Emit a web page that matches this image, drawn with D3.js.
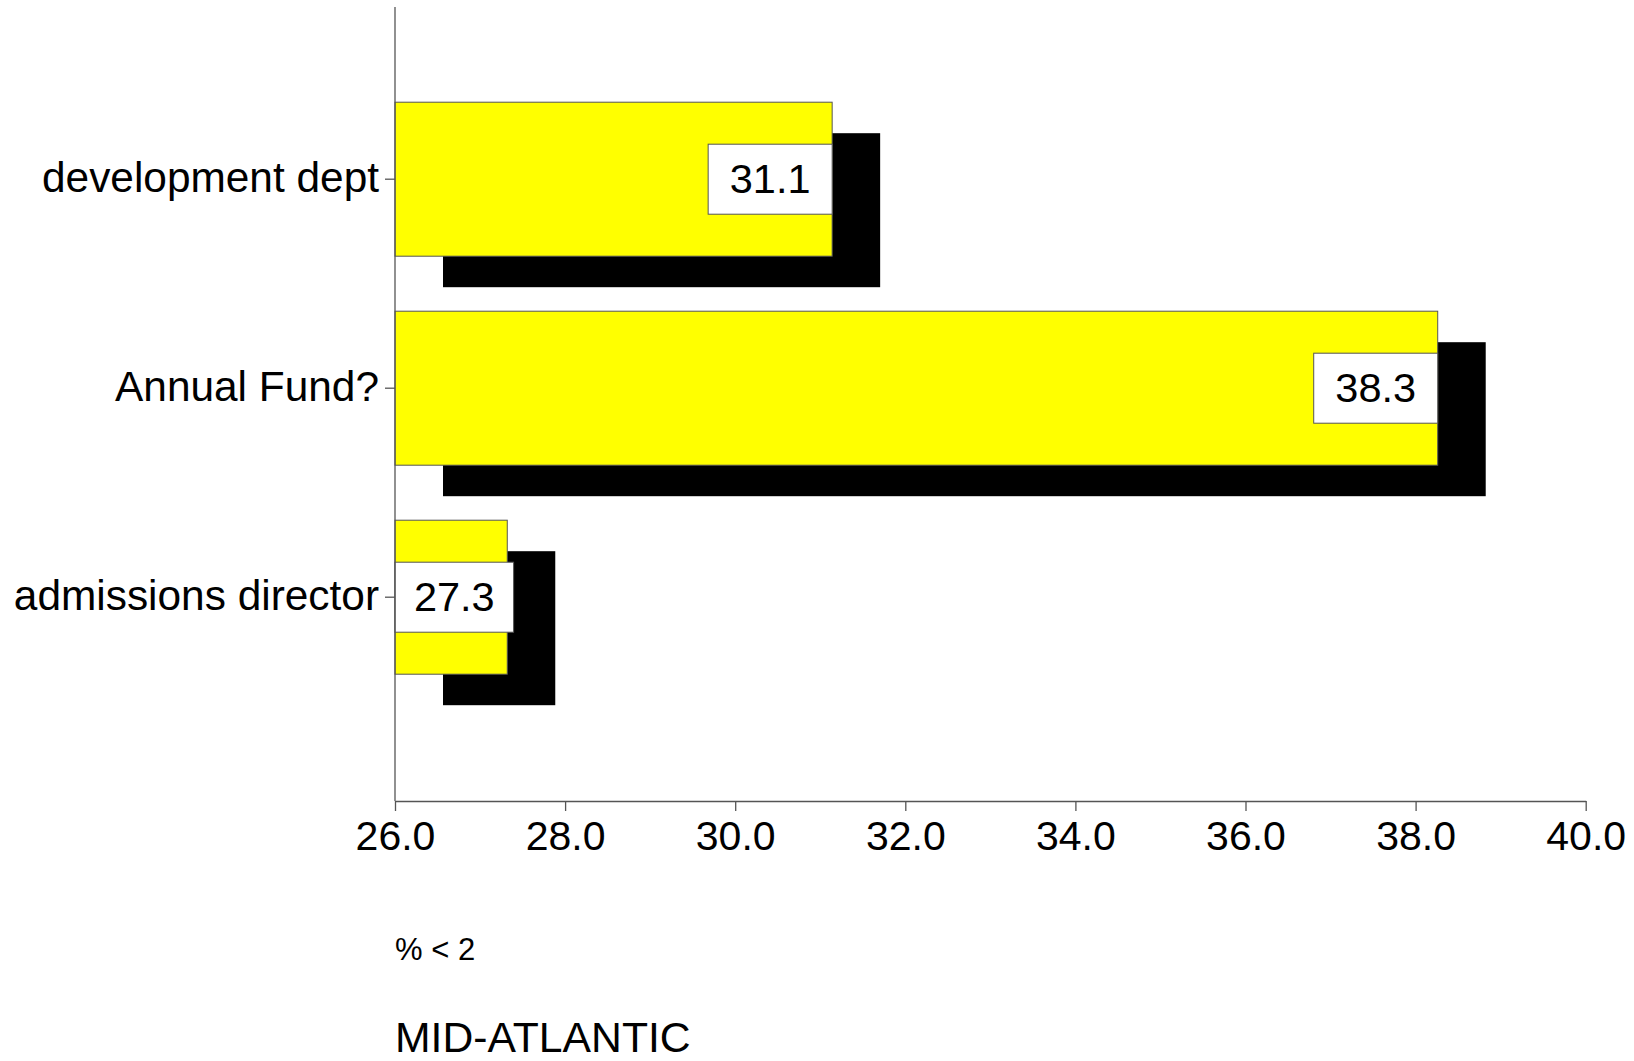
<!DOCTYPE html>
<html><head><meta charset="utf-8">
<script src="https://cdn.jsdelivr.net/npm/d3@7"></script>
<style>
body{margin:0;background:#fff;}
text{font-family:"Liberation Sans",Arial,sans-serif;fill:#000;}
</style></head>
<body>
<svg id="c" width="1634" height="1061"></svg>
<script>
const categories = ["development dept", "Annual Fund?", "admissions director"];
const values = [31.14, 38.26, 27.32];
const xTicks = [26, 28, 30, 32, 34, 36, 38, 40];
const axisTitle = "% < 2";
const regionTitle = "MID-ATLANTIC";

const svg = d3.select("#c");
const x0 = 395, x1 = 1585.7, yTop = 7, yBot = 801;
const x = d3.scaleLinear().domain([26, 40]).range([x0, x1]);
const y = d3.scalePoint().domain(categories).range([179.2, 597.2]);
const barH = 154, shX = 48, shY = 31;
const fmt = d3.format(".1f");

const data = categories.map((c, i) => ({c, v: values[i]}));

// shadows
svg.append("g").selectAll("rect").data(data).join("rect")
  .attr("x", x(26) + shX).attr("y", d => y(d.c) - barH/2 + shY)
  .attr("width", d => x(d.v) - x(26)).attr("height", barH)
  .attr("fill", "#000");

// bars
svg.append("g").selectAll("rect").data(data).join("rect")
  .attr("x", x(26)).attr("y", d => y(d.c) - barH/2)
  .attr("width", d => x(d.v) - x(26)).attr("height", barH)
  .attr("fill", "#ffff00").attr("stroke", "#555").attr("stroke-width", 1);

// label boxes
const boxW = 124, boxMinW = 118.6, boxH = 70;
const lab = svg.append("g").selectAll("g").data(data).join("g");
lab.append("rect")
  .attr("x", d => Math.max(x(d.v) - boxW, x0))
  .attr("y", d => y(d.c) - boxH/2)
  .attr("width", d => Math.max(x(d.v), x0 + boxMinW) - Math.max(x(d.v) - boxW, x0))
  .attr("height", boxH)
  .attr("fill", "#fff").attr("stroke", "#555").attr("stroke-width", 1);
lab.append("text")
  .attr("x", d => (Math.max(x(d.v) - boxW, x0) + Math.max(x(d.v), x0 + boxMinW)) / 2)
  .attr("y", d => y(d.c)).attr("dy", "0.33em")
  .attr("text-anchor", "middle").attr("font-size", 41.5)
  .text(d => fmt(d.v));

// y axis
const yAxis = svg.append("g");
yAxis.append("line").attr("x1", x0).attr("x2", x0).attr("y1", yTop).attr("y2", yBot)
  .attr("stroke", "#555").attr("stroke-width", 1.3);
yAxis.selectAll("line.t").data(categories).join("line").attr("class", "t")
  .attr("x1", x0 - 10).attr("x2", x0).attr("y1", d => y(d)).attr("y2", d => y(d))
  .attr("stroke", "#555").attr("stroke-width", 1.3);
yAxis.selectAll("text").data(categories).join("text")
  .attr("x", x0 - 16).attr("y", d => y(d)).attr("dy", "0.3em")
  .attr("text-anchor", "end").attr("font-size", 42.4).text(d => d);

// x axis
const xAxis = svg.append("g").attr("transform", `translate(0,${yBot})`)
  .call(d3.axisBottom(x).tickValues(xTicks).tickFormat(d3.format(".1f")).tickSize(10).tickSizeOuter(0).tickPadding(10));
xAxis.select(".domain").attr("stroke", "#555").attr("stroke-width", 1.3);
xAxis.selectAll(".tick line").attr("stroke", "#555").attr("stroke-width", 1.3);
xAxis.selectAll(".tick text").attr("font-size", 41).attr("font-family", "Liberation Sans, Arial, sans-serif").attr("fill", "#000");

svg.append("text").attr("x", 395).attr("y", 960).attr("font-size", 31).text(axisTitle);
svg.append("text").attr("x", 395).attr("y", 1052).attr("font-size", 42.7).text(regionTitle);
</script>
</body></html>
